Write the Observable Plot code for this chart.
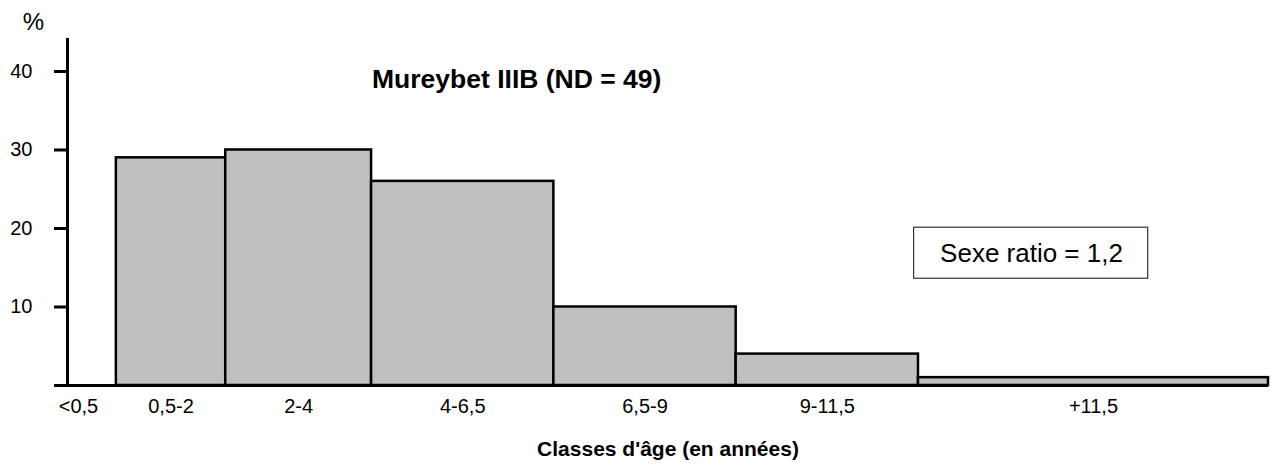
<!DOCTYPE html>
<html>
<head>
<meta charset="utf-8">
<script src="https://cdn.jsdelivr.net/npm/d3@7"></script>
<script src="https://cdn.jsdelivr.net/npm/@observablehq/plot@0.6"></script>
<style>
  html, body { margin: 0; padding: 0; background: #fff; }
  svg { font-family: "Liberation Sans", Arial, sans-serif; }
</style>
</head>
<body>
<div id="chart"></div>
<script>
// Age classes (years), bin boundaries and percentages
const classLabels = ["0,5-2", "2-4", "4-6,5", "6,5-9", "9-11,5", "+11,5"];
const binStart = [0.5, 2, 4, 6.5, 9, 11.5];
const binEnd   = [2, 4, 6.5, 9, 11.5, 16.3];
const percent  = [29, 30, 26, 10, 4, 1];
const firstLabel = "<0,5";
const yTicks = [10, 20, 30, 40];
const title = "Mureybet IIIB (ND = 49)";
const boxText = "Sexe ratio = 1,2";
const xLabel = "Classes d'âge (en années)";

const bars = classLabels.map((c, i) => ({label: c, x1: binStart[i], x2: binEnd[i], y: percent[i]}));
const tickLabels = [{label: firstLabel, x: -0.02}].concat(bars.map(b => ({label: b.label, x: (b.x1 + b.x2) / 2})));

const xMin = -0.17, xMax = 16.3, yMax = 44.2;

const chart = Plot.plot({
  width: 1273,
  height: 464,
  marginLeft: 67,
  marginRight: 5,
  marginTop: 38,
  marginBottom: 79,
  style: {fontFamily: '"Liberation Sans", Arial, sans-serif', background: "#fff"},
  x: {domain: [xMin, xMax], axis: null},
  y: {domain: [0, yMax], axis: null},
  marks: [
    Plot.rect(bars, {x1: "x1", x2: "x2", y1: 0, y2: "y", fill: "#c0c0c0", stroke: "#000", strokeWidth: 2.5}),
    // baseline
    Plot.ruleY([0], {x1: xMin, x2: xMax, insetLeft: -13, stroke: "#000", strokeWidth: 3}),
    // y axis line
    Plot.ruleX([xMin], {y1: 0, y2: yMax, stroke: "#000", strokeWidth: 3}),
    Plot.axisY({ticks: yTicks, tickSize: 13, tickPadding: 22, strokeWidth: 3, fontSize: 20, label: null, tickFormat: d => String(d)}),
    Plot.text(["%"], {frameAnchor: "top-left", dx: -34, dy: -16, fontSize: 24, textAnchor: "middle", lineAnchor: "middle"}),
    // category labels
    Plot.text(tickLabels, {x: "x", y: 0, text: "label", dy: 21, fontSize: 20, fill: "#000", lineAnchor: "middle"}),
    // title
    Plot.text([title], {x: 5.99, y: 39, fontSize: 26.5, fontWeight: "bold", fill: "#000", lineAnchor: "middle"}),
    // sexe ratio box
    Plot.rect([{}], {x1: 11.44, x2: 14.65, y1: 13.6, y2: 20.1, fill: "#fff", stroke: "#333", strokeWidth: 1.2}),
    Plot.text([boxText], {x: 13.05, y: 16.85, fontSize: 26, fill: "#000", lineAnchor: "middle"}),
    // x label
    Plot.text([xLabel], {frameAnchor: "bottom", dy: 64, fontSize: 21, fontWeight: "bold", fill: "#000", lineAnchor: "middle"})
  ]
});
document.getElementById("chart").appendChild(chart);
</script>
</body>
</html>
